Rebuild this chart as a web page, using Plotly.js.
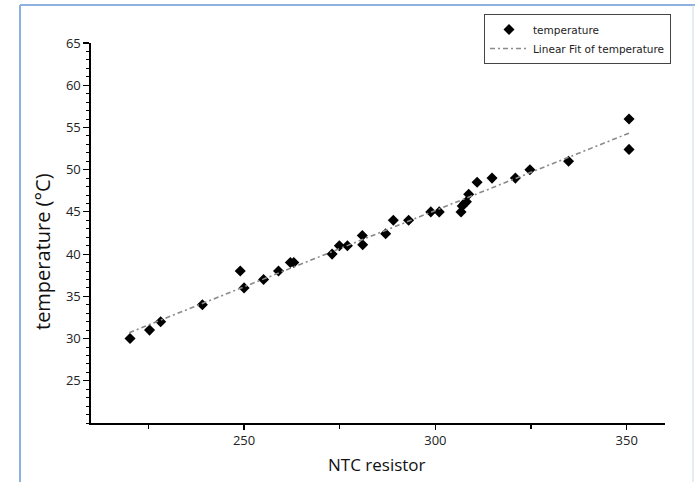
<!DOCTYPE html>
<html>
<head>
<meta charset="utf-8">
<script src="https://cdn.plot.ly/plotly-3.0.1.min.js"></script>
<style>
html,body{margin:0;padding:0;background:#fff;}
#chart{width:695px;height:482px;}
</style>
</head>
<body>
<div id="chart"></div>
<script>
// NTC resistor readings
const resistor = [220.2,225.3,228.2,239.1,249,250,255.1,259,262.1,263,273,274.9,277,280.9,281,287,289,293,298.8,301,306.7,307,307.6,308.1,308.7,310.9,314.8,320.9,324.7,334.8,350.6,350.6];
// measured temperature (°C)
const temperature = [30,31,32,34,38,36,37,38,39,39,40,41,41,42.2,41.1,42.4,44,44,45,45,45,45.7,46,46.2,47.1,48.5,49,49,50,51,56,52.4];
// linear fit end points
const fitX = [220, 351];
const fitY = [30.7, 54.4];
// axis ticks
const yTicks = [25,30,35,40,45,50,55,60,65];
const xTicks = [250,300,350];

const tickFont = {family:'Open Sans, sans-serif', size:13, color:'#222'};

const data = [
  {
    x: resistor, y: temperature, type:'scatter', mode:'markers', name:'temperature',
    marker:{symbol:'diamond', size:8.5, color:'#000'}
  },
  {
    x: fitX, y: fitY, type:'scatter', mode:'lines', name:'Linear Fit of temperature',
    line:{color:'#8a8a8a', width:1.6, dash:'5px,3px,2px,3px'}
  }
];

const L = 91, R = 30, T = 43, B = 59;
const W = 695, H = 482;
const pw = W - L - R, ph = H - T - B;
const px = v => (v - L) / pw;
const py = v => (H - B - v) / ph;

const layout = {
  width: W, height: H,
  margin:{l:L, r:R, t:T, b:B, pad:0},
  paper_bgcolor:'#fff', plot_bgcolor:'#fff',
  showlegend:true,
  legend:{
    x: px(484), y: py(14), xanchor:'left', yanchor:'top',
    bgcolor:'#fff', bordercolor:'#444', borderwidth:1,
    font:{family:'DejaVu Sans, sans-serif', size:10.5, color:'#222'},
    itemwidth:38, tracegroupgap:0
  },
  xaxis:{
    range:[210,360], showgrid:false, zeroline:false,
    showline:true, linecolor:'#000', linewidth:1.6,
    ticks:'outside', ticklen:5, tickwidth:1.2, tickcolor:'#000',
    tickvals:xTicks, tickfont:tickFont,
    minor:{ticks:'outside', ticklen:4, tickwidth:1.2, tickcolor:'#000', dtick:25, showgrid:false},
    mirror:false
  },
  yaxis:{
    range:[20,65], showgrid:false, zeroline:false,
    showline:true, linecolor:'#000', linewidth:1.6,
    ticks:'outside', ticklen:6, tickwidth:1.2, tickcolor:'#000',
    tickvals:yTicks, tickfont:tickFont,
    minor:{ticks:'outside', ticklen:3, tickwidth:1, tickcolor:'#000', dtick:1, showgrid:false},
    mirror:false
  },
  annotations:[
    {text:'NTC resistor', xref:'paper', yref:'paper', x:px(377), y:py(465),
     xanchor:'center', yanchor:'middle', showarrow:false,
     font:{family:'Open Sans, sans-serif', size:17, color:'#111'}},
    {text:'temperature (°C)', xref:'paper', yref:'paper', x:px(43), y:py(251),
     xanchor:'center', yanchor:'middle', showarrow:false, textangle:-90,
     font:{family:'Open Sans, sans-serif', size:20, color:'#111'}}
  ],
  shapes:[
    {type:'line', xref:'paper', yref:'paper', x0:px(20), x1:px(20), y0:py(5), y1:py(490),
     line:{color:'#8cb2df', width:2}, layer:'above'},
    {type:'line', xref:'paper', yref:'paper', x0:px(20), x1:px(700), y0:py(5), y1:py(5),
     line:{color:'#8cb2df', width:2}, layer:'above'},
    {type:'line', xref:'paper', yref:'paper', x0:px(693), x1:px(693), y0:py(5), y1:py(490),
     line:{color:'#c8d6e6', width:1}, layer:'above'}
  ]
};

Plotly.newPlot('chart', data, layout, {staticPlot:true, displayModeBar:false});
</script>
</body>
</html>
